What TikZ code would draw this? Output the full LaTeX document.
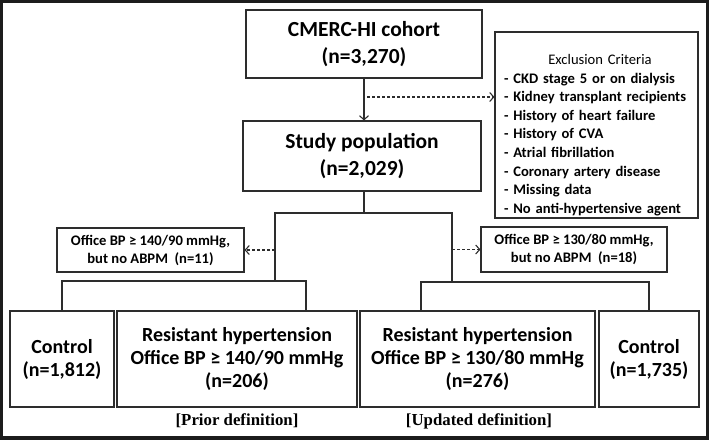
\documentclass[tikz,border=0pt]{standalone}
\usepackage{fontspec}
\setmainfont{Carlito}
\newfontfamily\capfont{Liberation Serif}
\usetikzlibrary{arrows.meta}
\definecolor{framegray}{RGB}{28, 28, 28}
\definecolor{linegray}{RGB}{45, 45, 45}

\tikzset{
    flowbox/.style   = {draw=linegray, line width=1.1pt, inner sep=0pt, align=center},
    topfont/.style   = {font=\bfseries\fontsize{21.5}{27.5}\selectfont},
    groupfont/.style = {font=\bfseries\fontsize{20}{23}\selectfont},
    notefont/.style  = {font=\bfseries\fontsize{14.6}{18}\selectfont},
    link/.style      = {draw=linegray, line width=1.1pt},
    droparrow/.style = {link, dash pattern=on 3pt off 2pt, -{Straight Barb[length=4pt, width=9pt]}},
    captext/.style   = {font=\capfont\bfseries\fontsize{16.8}{20}\selectfont}
}

\begin{document}
\begin{tikzpicture}[x=1pt, y=-1pt]
    \useasboundingbox (0,0) rectangle (709,440);
    \fill[framegray] (0,0) rectangle (709,440);
    \fill[white]     (3,3) rectangle (706,436);

    % cohort and study population
    \node[flowbox, topfont, minimum width=236pt, minimum height=68pt] (cohort) at (364,44)  {CMERC-HI cohort\\(n=3,270)};
    \node[flowbox, topfont, minimum width=238pt, minimum height=70pt] (study)  at (362,156) {Study population\\(n=2,029)};
    \node[flowbox, minimum width=203pt, minimum height=186pt]         (excl)   at (596.5,125) {};
    \node[text width=192pt, align=left, inner sep=0pt, font=\bfseries\fontsize{14.6}{18.6}\selectfont] (excllist) at (600,135)
        {{\centering\mdseries Exclusion Criteria\par}
         - CKD stage 5 or on dialysis\\
         - Kidney transplant recipients\\
         - History of heart failure\\
         - History of CVA\\
         - Atrial fibrillation\\
         - Coronary artery disease\\
         - Missing data\\
         - No anti-hypertensive agent};

    % patients without ABPM
    \node[flowbox, notefont, minimum width=187pt, minimum height=44pt] (offL) at (150.5,250) {Office BP ≥ 140/90 mmHg,\\but no ABPM\ \ (n=11)};
    \node[flowbox, notefont, minimum width=186pt, minimum height=45pt] (offR) at (574,249.5) {Office BP ≥ 130/80 mmHg,\\but no ABPM\ \ (n=18)};

    % final groups
    \node[flowbox, groupfont, minimum width=104pt, minimum height=96pt] (ctrlL) at (62,359)    {Control\\(n=1,812)};
    \node[flowbox, groupfont, minimum width=240pt, minimum height=96pt] (rhL)   at (237,359)   {Resistant hypertension\\Office BP ≥ 140/90 mmHg\\(n=206)};
    \node[flowbox, groupfont, minimum width=235pt, minimum height=96pt] (rhR)   at (477.5,359) {Resistant hypertension\\Office BP ≥ 130/80 mmHg\\(n=276)};
    \node[flowbox, groupfont, minimum width=100pt, minimum height=96pt] (ctrlR) at (649,359)   {Control\\(n=1,735)};

    \node[captext] (prior)   at (237,421) {[Prior definition]};
    \node[captext] (updated) at (479,421) {[Updated definition]};

    % connectors
    \coordinate (split) at (364,97);
    \coordinate (fork)  at (364,213);
    \coordinate (forkR) at (452,213);
    \coordinate (stemL) at (275,281);
    \coordinate (stemR) at (452,281);
    \coordinate (legL)  at (306,281);
    \coordinate (legR)  at (421,282);

    \draw[link, -{Straight Barb[length=4pt, width=9pt]}] (cohort.south) -- (cohort.south |- study.north);
    \draw[droparrow] ([xshift=3pt]split) -- (split -| excl.west);
    \draw[link] (fork |- study.south) -- (fork);
    \draw[link] (stemL) |- (forkR) -- (stemR);
    \draw[droparrow] (stemL |- offL.east) -- (offL.east);
    \draw[droparrow] (stemR |- offR.west) -- (offR.west);
    \draw[link] (ctrlL.north) |- (legL) -- (legL |- rhL.north);
    \draw[link] (ctrlR.north) |- (legR) -- (legR |- rhR.north);
\end{tikzpicture}
\end{document}
